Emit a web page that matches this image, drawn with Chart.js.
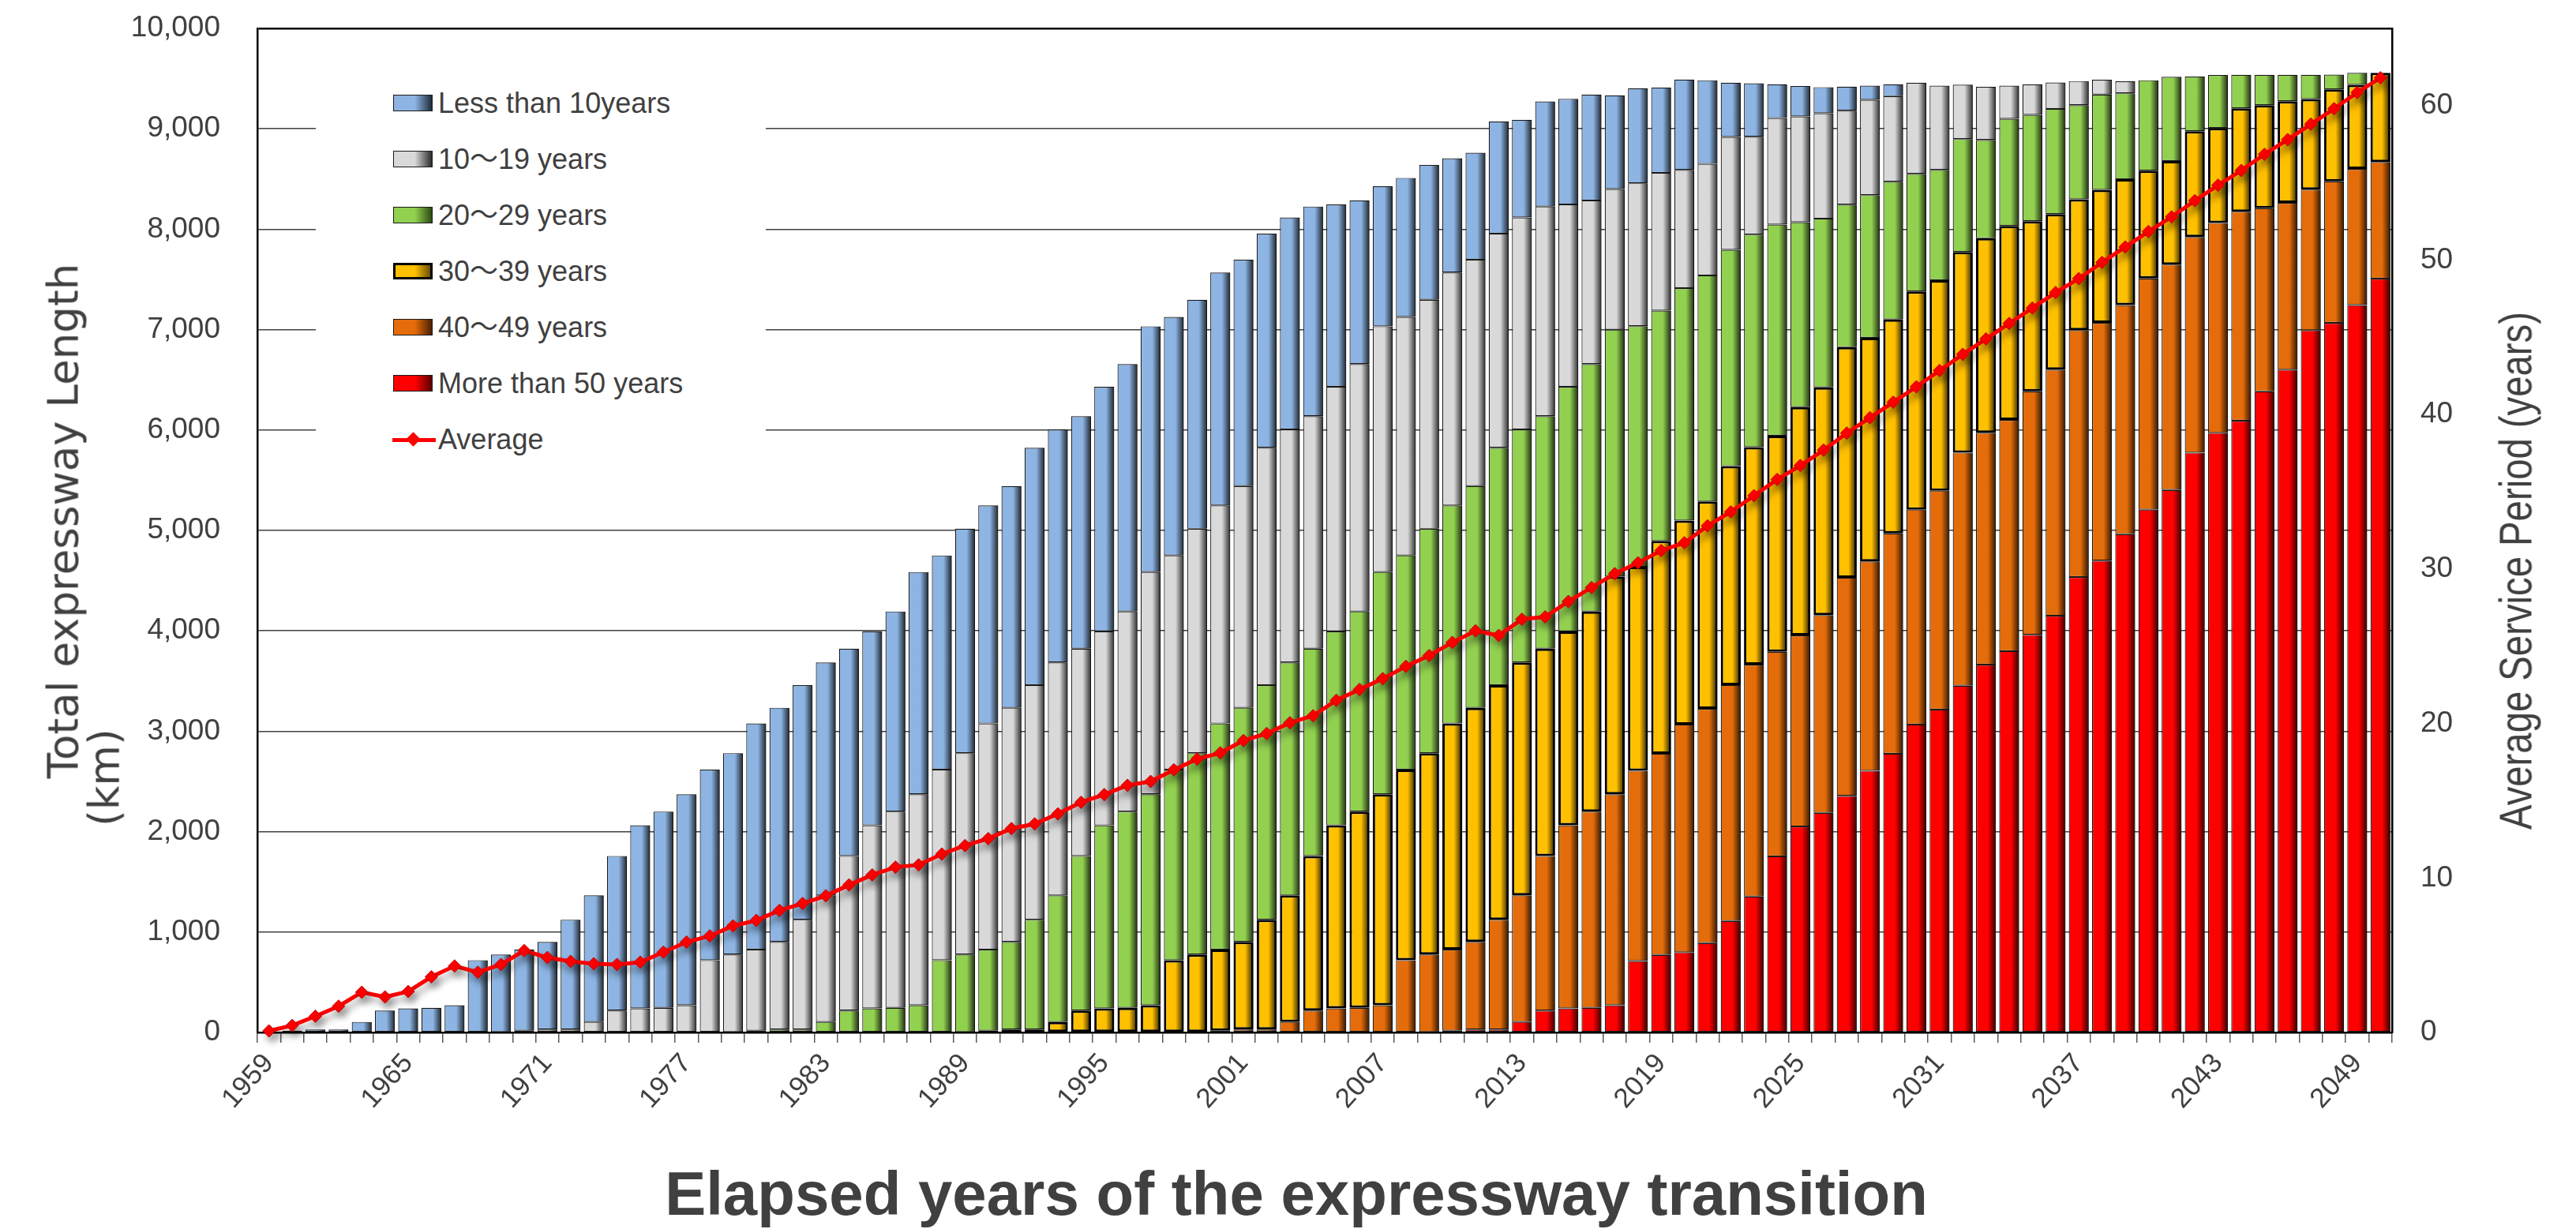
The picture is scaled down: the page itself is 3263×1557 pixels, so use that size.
<!DOCTYPE html>
<html lang="en">
<head>
<meta charset="UTF-8">
<title>Expressway age transition</title>
<script src="https://cdn.jsdelivr.net/npm/chart.js@4.4.1/dist/chart.umd.min.js"></script>
<style>
  body { margin: 0; background: #fff; overflow: hidden; }
  #wrap { position: relative; width: 3263px; height: 1557px; }
  #chart { position: absolute; left: 0; top: 0; }
  .ttl { position: absolute; white-space: nowrap; color: #404040; line-height: 1; }
  #legend { position: absolute; left: 400px; top: 52px; width: 570px; height: 575px; background: #fff; }
  .lg-item { position: absolute; left: 0; height: 40px; width: 560px; }
  .lg-box { position: absolute; left: 98px; top: 9px; width: 50px; height: 21px; box-sizing: border-box; }
  .lg-text { position: absolute; left: 155px; top: 2px; font: 36px "Liberation Sans", "Noto Sans CJK JP", sans-serif; line-height: 36px; color: #404040; white-space: nowrap; }
</style>
</head>
<body>
<div id="wrap">
  <canvas id="chart" width="3263" height="1557"></canvas>
  <div id="legend"></div>
  <div class="ttl" id="ytitle1" style="left:80px;top:660px;font:53px 'DejaVu Sans',sans-serif;transform:translate(-50%,-50%) rotate(-90deg)">Total expressway Length</div>
  <div class="ttl" id="ytitle2" style="left:132px;top:985px;font:53px 'DejaVu Sans',sans-serif;transform:translate(-50%,-50%) rotate(-90deg)">(km)</div>
  <div class="ttl" id="y1title" style="left:3186px;top:723px;font:58px 'Liberation Sans Narrow','Liberation Sans',sans-serif;transform:translate(-50%,-50%) rotate(-90deg)">Average Service Period (years)</div>
  <div class="ttl" id="xtitle" style="left:1642px;top:1512px;font:bold 78px 'Liberation Sans',sans-serif;transform:translate(-50%,-50%)">Elapsed years of the expressway transition</div>
</div>
<script>
// years on the x axis
const years = [
  1959, 1960, 1961, 1962, 1963, 1964, 1965, 1966, 1967, 1968,
  1969, 1970, 1971, 1972, 1973, 1974, 1975, 1976, 1977, 1978,
  1979, 1980, 1981, 1982, 1983, 1984, 1985, 1986, 1987, 1988,
  1989, 1990, 1991, 1992, 1993, 1994, 1995, 1996, 1997, 1998,
  1999, 2000, 2001, 2002, 2003, 2004, 2005, 2006, 2007, 2008,
  2009, 2010, 2011, 2012, 2013, 2014, 2015, 2016, 2017, 2018,
  2019, 2020, 2021, 2022, 2023, 2024, 2025, 2026, 2027, 2028,
  2029, 2030, 2031, 2032, 2033, 2034, 2035, 2036, 2037, 2038,
  2039, 2040, 2041, 2042, 2043, 2044, 2045, 2046, 2047, 2048,
  2049, 2050
];

// km in service (whole bar)
const lenTotal = [
  5, 18, 30, 30, 105, 218, 240, 246, 271, 720,
  776, 825, 902, 1123, 1365, 1758, 2063, 2200, 2372, 2618,
  2782, 3077, 3234, 3459, 3685, 3823, 3994, 4193, 4586, 4751,
  5017, 5249, 5442, 5823, 6006, 6138, 6431, 6657, 7033, 7127,
  7298, 7569, 7697, 7956, 8117, 8226, 8246, 8287, 8429, 8511,
  8639, 8707, 8761, 9074, 9090, 9272, 9299, 9342, 9333, 9404,
  9411, 9491, 9484, 9460, 9453, 9443, 9427, 9415, 9420, 9430,
  9444, 9459, 9430, 9440, 9419, 9430, 9443, 9461, 9476, 9489,
  9473, 9484, 9518, 9520, 9536, 9538, 9538, 9538, 9538, 9540,
  9558, 9558
];

// km aged 10 years or more (top of the grey band)
const lenOver10 = [
  0, 0, 0, 0, 0, 0, 0, 0, 0, 0,
  5, 18, 30, 30, 105, 218, 240, 246, 271, 720,
  776, 825, 902, 1123, 1365, 1758, 2063, 2200, 2372, 2618,
  2782, 3077, 3234, 3459, 3685, 3823, 3994, 4193, 4586, 4751,
  5017, 5249, 5442, 5823, 6006, 6138, 6431, 6657, 7033, 7127,
  7298, 7569, 7697, 7956, 8117, 8226, 8246, 8287, 8400, 8458,
  8562, 8591, 8651, 8919, 8921, 9107, 9123, 9155, 9181, 9288,
  9325, 9459, 9430, 9440, 9419, 9430, 9443, 9461, 9476, 9489,
  9473, 9484, 9518, 9520, 9536, 9538, 9538, 9538, 9538, 9540,
  9558, 9558
];

// km aged 20 years or more (top of the green band)
const lenOver20 = [
  0, 0, 0, 0, 0, 0, 0, 0, 0, 0,
  0, 0, 0, 0, 0, 0, 0, 0, 0, 0,
  5, 18, 30, 30, 105, 218, 240, 246, 271, 720,
  776, 825, 902, 1123, 1365, 1758, 2063, 2200, 2372, 2618,
  2782, 3077, 3234, 3459, 3685, 3823, 3994, 4193, 4586, 4751,
  5017, 5249, 5442, 5823, 6006, 6138, 6431, 6657, 7000, 7035,
  7190, 7414, 7540, 7795, 7947, 8046, 8070, 8106, 8245, 8340,
  8473, 8552, 8591, 8898, 8890, 9100, 9139, 9199, 9236, 9341,
  9354, 9484, 9518, 9520, 9536, 9538, 9538, 9538, 9538, 9540,
  9558, 9558
];

// km aged 30 years or more (top of the yellow band)
const lenOver30 = [
  0, 0, 0, 0, 0, 0, 0, 0, 0, 0,
  0, 0, 0, 0, 0, 0, 0, 0, 0, 0,
  0, 0, 0, 0, 0, 0, 0, 0, 0, 0,
  5, 18, 30, 30, 105, 218, 240, 246, 271, 720,
  776, 825, 902, 1123, 1365, 1758, 2063, 2200, 2372, 2618,
  2782, 3077, 3234, 3459, 3685, 3823, 3994, 4193, 4540, 4638,
  4895, 5098, 5288, 5640, 5829, 5944, 6229, 6425, 6825, 6919,
  7102, 7380, 7493, 7774, 7910, 8033, 8080, 8151, 8298, 8392,
  8499, 8583, 8680, 8976, 9008, 9204, 9236, 9275, 9296, 9393,
  9438, 9558
];

// km aged 40 years or more (top of the orange band)
const lenOver40 = [
  0, 0, 0, 0, 0, 0, 0, 0, 0, 0,
  0, 0, 0, 0, 0, 0, 0, 0, 0, 0,
  0, 0, 0, 0, 0, 0, 0, 0, 0, 0,
  0, 0, 0, 0, 0, 0, 0, 0, 0, 0,
  5, 18, 30, 30, 105, 218, 240, 246, 271, 720,
  776, 825, 902, 1123, 1365, 1758, 2063, 2200, 2372, 2607,
  2776, 3067, 3223, 3460, 3663, 3791, 3954, 4157, 4529, 4692,
  4970, 5207, 5396, 5775, 5972, 6100, 6385, 6601, 6994, 7068,
  7244, 7509, 7648, 7923, 8063, 8175, 8209, 8262, 8395, 8476,
  8600, 8670
];

// km aged 50 years or more (top of the red band)
const lenOver50 = [
  0, 0, 0, 0, 0, 0, 0, 0, 0, 0,
  0, 0, 0, 0, 0, 0, 0, 0, 0, 0,
  0, 0, 0, 0, 0, 0, 0, 0, 0, 0,
  0, 0, 0, 0, 0, 0, 0, 0, 0, 0,
  0, 0, 0, 0, 0, 0, 0, 0, 0, 0,
  5, 18, 30, 30, 105, 218, 240, 246, 271, 711,
  772, 799, 890, 1110, 1354, 1754, 2051, 2187, 2356, 2607,
  2776, 3067, 3216, 3453, 3663, 3798, 3961, 4150, 4536, 4699,
  4963, 5207, 5403, 5775, 5972, 6093, 6385, 6601, 6994, 7068,
  7244, 7508
];

// average service period (years), right axis
const avgAge = [
  0.1, 0.45, 1.05, 1.7, 2.6, 2.3, 2.65, 3.6, 4.3, 3.9,
  4.4, 5.3, 4.85, 4.6, 4.45, 4.4, 4.55, 5.2, 5.85, 6.25,
  6.9, 7.25, 7.9, 8.35, 8.85, 9.55, 10.2, 10.7, 10.85, 11.55,
  12.1, 12.55, 13.2, 13.5, 14.15, 14.9, 15.4, 16.0, 16.25, 17.0,
  17.7, 18.1, 18.9, 19.35, 20.05, 20.5, 21.5, 22.2, 22.9, 23.7,
  24.4, 25.25, 26.0, 25.7, 26.75, 26.9, 27.9, 28.8, 29.7, 30.4,
  31.2, 31.7, 32.8, 33.7, 34.75, 35.8, 36.7, 37.7, 38.8, 39.8,
  40.8, 41.8, 42.85, 43.9, 44.9, 45.9, 46.9, 47.9, 48.8, 49.85,
  50.85, 51.85, 52.8, 53.85, 54.85, 55.8, 56.85, 57.8, 58.8, 59.8,
  60.85, 61.8
];

const tickYears = [1959, 1965, 1971, 1977, 1983, 1989, 1995, 2001, 2007, 2013, 2019, 2025, 2031, 2037, 2043, 2049];

// each age band is a floating bar between two of the arrays above
const bands = [
  { label: 'Less than 10years',  lo: lenOver10, hi: lenTotal,  color: '#8DB4E2', dark: '#1d2a3a', border: '#1a1a1a', bw: 1.2 },
  { label: '10～19 years',        lo: lenOver20, hi: lenOver10, color: '#D9D9D9', dark: '#2a2a2a', border: '#1a1a1a', bw: 1.2 },
  { label: '20～29 years',        lo: lenOver30, hi: lenOver20, color: '#92D050', dark: '#2b4a12', border: '#1a1a1a', bw: 1.2 },
  { label: '30～39 years',        lo: lenOver40, hi: lenOver30, color: '#FFC000', dark: '#6b4f00', border: '#000000', bw: 3 },
  { label: '40～49 years',        lo: lenOver50, hi: lenOver40, color: '#E46C0A', dark: '#4a2002', border: '#1a1a1a', bw: 1.2 },
  { label: 'More than 50 years', lo: null,      hi: lenOver50, color: '#FF0000', dark: '#5a0000', border: '#1a1a1a', bw: 1.2 }
];

const FONT = '"Liberation Sans", "Noto Sans CJK JP", sans-serif';
const PLOT = { left: 326, top: 36, right: 3030, bottom: 1308 };

const datasets = bands.map(b => ({
  type: 'bar',
  label: b.label,
  data: years.map((y, i) => {
    const lo = b.lo ? b.lo[i] : 0;
    return b.hi[i] > lo ? [lo, b.hi[i]] : null;
  }),
  backgroundColor: b.color,
  borderColor: b.border,
  borderWidth: b.bw,
  borderSkipped: false,
  grouped: false,
  categoryPercentage: 1,
  barPercentage: 0.86,
  yAxisID: 'y',
  order: 1
}));

datasets.push({
  type: 'line',
  label: 'Average',
  data: avgAge,
  yAxisID: 'y1',
  borderColor: '#FF0000',
  backgroundColor: '#FF0000',
  borderWidth: 5,
  pointStyle: 'rectRot',
  pointRadius: 8,
  pointBackgroundColor: '#FF0000',
  pointBorderColor: '#C00000',
  pointBorderWidth: 1,
  tension: 0,
  clip: false,
  order: 0
});

// darker right edge on every bar, and a soft shadow under the line
const shading = {
  id: 'shading',
  beforeDatasetDraw(chart, args) {
    if (args.meta.type === 'line') {
      const c = chart.ctx;
      c.save();
      c.shadowColor = 'rgba(0,0,0,0.35)';
      c.shadowBlur = 10;
      c.shadowOffsetX = 4;
      c.shadowOffsetY = 7;
    }
  },
  afterDatasetDraw(chart, args) {
    const meta = args.meta;
    const c = chart.ctx;
    if (meta.type === 'line') { c.restore(); return; }
    if (meta.type !== 'bar') return;
    const ds = chart.data.datasets[args.index];
    const bw = ds.borderWidth;
    c.save();
    meta.data.forEach((el, i) => {
      if (!ds.data[i]) return;
      const p = el.getProps(['x', 'y', 'base', 'width'], true);
      const top = Math.min(p.y, p.base) + bw / 2;
      const bot = Math.max(p.y, p.base) - bw / 2;
      if (bot - top < 1) return;
      const x0 = p.x - p.width / 2 + p.width * 0.58;
      const x1 = p.x + p.width / 2 - bw / 2;
      const g = c.createLinearGradient(x0, 0, x1, 0);
      g.addColorStop(0, 'rgba(0,0,0,0)');
      g.addColorStop(1, 'rgba(0,0,0,0.75)');
      c.fillStyle = g;
      c.fillRect(x0, top, x1 - x0, bot - top);
    });
    c.restore();
  }
};

// tick padding also pads the top of a vertical axis, so the gap to the labels
// is made with invisible tick marks instead
const chart = new Chart(document.getElementById('chart'), {
  data: { labels: years, datasets: datasets },
  plugins: [shading],
  options: {
    responsive: false,
    animation: false,
    devicePixelRatio: 1,
    layout: { padding: { left: 0, right: 0, top: PLOT.top, bottom: 0 } },
    plugins: { legend: { display: false }, tooltip: { enabled: false } },
    scales: {
      x: {
        type: 'category',
        offset: true,
        grid: { offset: true, drawOnChartArea: false, drawTicks: true, tickLength: 13, color: '#595959', lineWidth: 1.5 },
        border: { color: '#000', width: 2.5 },
        ticks: {
          autoSkip: false, maxRotation: 48, minRotation: 48, padding: 6,
          color: '#404040', font: { family: FONT, size: 35 },
          callback: function (v, i) { return tickYears.includes(years[i]) ? String(years[i]) : ''; }
        },
        afterFit: s => { s.height = 1557 - PLOT.bottom; }
      },
      y: {
        position: 'left',
        min: 0, max: 10000,
        grid: {
          drawTicks: true, tickLength: 47, tickColor: 'rgba(0,0,0,0)',
          color: c => c.tick && c.tick.value === 10000 ? '#000' : '#404040',
          lineWidth: c => c.tick && c.tick.value === 10000 ? 2.5 : 1.5
        },
        border: { color: '#000', width: 2.5 },
        ticks: {
          stepSize: 1000, padding: 0, color: '#404040', font: { family: FONT, size: 37 },
          callback: v => v.toLocaleString('en-US')
        },
        afterFit: s => { s.width = PLOT.left; }
      },
      y1: {
        position: 'right',
        min: 0, max: 65,
        grid: { drawOnChartArea: false, drawTicks: true, tickLength: 36, tickColor: 'rgba(0,0,0,0)' },
        border: { color: '#000', width: 2.5 },
        ticks: {
          stepSize: 10, padding: 0, color: '#404040', font: { family: FONT, size: 37 },
          callback: v => (v % 10 === 0 ? v : '')
        },
        afterFit: s => { s.width = 3263 - PLOT.right; }
      }
    }
  }
});

// legend drawn as page text over a white box, like the original
const legend = document.getElementById('legend');
chart.data.datasets.forEach((ds, i) => {
  const item = document.createElement('div');
  item.className = 'lg-item';
  item.style.top = (78.6 + i * 71.1 - 20) + 'px';
  const text = document.createElement('div');
  text.className = 'lg-text';
  text.textContent = ds.label;
  if (ds.type === 'bar') {
    const b = bands[i];
    const box = document.createElement('div');
    box.className = 'lg-box';
    box.style.background = 'linear-gradient(to right, ' + b.color + ' 55%, ' + b.dark + ' 100%)';
    box.style.border = (b.bw > 2 ? 3 : 1.5) + 'px solid ' + b.border;
    item.appendChild(box);
  } else {
    const ln = document.createElement('div');
    ln.style.cssText = 'position:absolute;left:97px;top:18px;width:55px;height:5px;background:#FF0000';
    const dm = document.createElement('div');
    dm.style.cssText = 'position:absolute;left:117px;top:13px;width:13px;height:13px;background:#FF0000;transform:rotate(45deg)';
    item.appendChild(ln);
    item.appendChild(dm);
  }
  item.appendChild(text);
  legend.appendChild(item);
});

// squeeze the right-hand title to the length it has in the original
const y1t = document.getElementById('y1title');
const fit = 656 / y1t.offsetWidth;
y1t.style.transform = 'translate(-50%,-50%) rotate(-90deg) scaleX(' + fit.toFixed(3) + ')';
</script>
</body>
</html>
